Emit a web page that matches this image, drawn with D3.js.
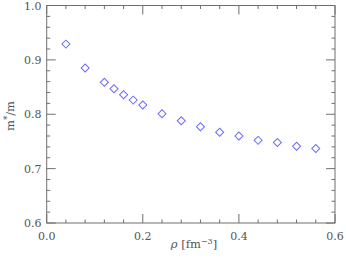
<!DOCTYPE html>
<html><head><meta charset="utf-8">
<script src="https://cdn.jsdelivr.net/npm/d3@7"></script>
<style>body{margin:0;background:#fff}svg{display:block}</style>
</head><body>
<svg id="c" width="346" height="261"></svg>
<script>
const rho = [0.04,0.08,0.12,0.14,0.16,0.18,0.20,0.24,0.28,0.32,0.36,0.40,0.44,0.48,0.52,0.56];
const mstar = [0.929,0.885,0.859,0.847,0.836,0.826,0.817,0.801,0.788,0.777,0.767,0.760,0.752,0.748,0.741,0.737];
const xTicks = [0.0,0.2,0.4,0.6];
const yTicks = [0.6,0.7,0.8,0.9,1.0];

const svg = d3.select("#c");
const L=46.7, R=335, T=5.5, B=223;
const x = d3.scaleLinear().domain([0,0.6]).range([L,R]);
const y = d3.scaleLinear().domain([0.6,1.0]).range([B,T]);
const col="#6f6f6f", font="DejaVu Serif", tcol="#555";

const g = svg.append("g");
const xMinor = d3.range(0,0.6001,0.04).map(v=>+v.toFixed(2)).filter(v=>!xTicks.some(t=>Math.abs(t-v)<1e-6));
const yMinor = d3.range(0.6,1.0001,0.02).map(v=>+v.toFixed(2)).filter(v=>!yTicks.some(t=>Math.abs(t-v)<1e-6));
function tick(x1,y1,x2,y2){g.append("line").attr("x1",x1).attr("y1",y1).attr("x2",x2).attr("y2",y2).attr("stroke",col).attr("stroke-width",1);}
xMinor.forEach(v=>{tick(x(v),B,x(v),B-3.5);tick(x(v),T,x(v),T+3.5);});
xTicks.forEach(v=>{tick(x(v),B,x(v),B-9);tick(x(v),T,x(v),T+9);});
yMinor.forEach(v=>{tick(L,y(v),L+3.5,y(v));tick(R,y(v),R-3.5,y(v));});
yTicks.forEach(v=>{tick(L,y(v),L+9,y(v));tick(R,y(v),R-9,y(v));});
g.append("rect").attr("x",L).attr("y",T).attr("width",R-L).attr("height",B-T).attr("fill","none").attr("stroke",col).attr("stroke-width",1);

svg.selectAll(".xl").data(xTicks).enter().append("text").attr("x",d=>x(d)).attr("y",240)
  .attr("text-anchor","middle").attr("font-family",font).attr("font-size",11).attr("fill",tcol).text(d=>d.toFixed(1));
svg.selectAll(".yl").data(yTicks).enter().append("text").attr("x",41.5).attr("y",d=>y(d)+4)
  .attr("text-anchor","end").attr("font-family",font).attr("font-size",11).attr("fill",tcol).text(d=>d.toFixed(1));

const xt = svg.append("text").attr("x",194).attr("y",248).attr("text-anchor","middle")
  .attr("font-family",font).attr("font-size",11.5).attr("fill",tcol);
xt.append("tspan").attr("font-style","italic").text("ρ");
xt.append("tspan").text("  [fm");
xt.append("tspan").attr("dy",-4).attr("font-size",8).text("−3");
xt.append("tspan").attr("dy",4).text("]");

const yt = svg.append("text").attr("transform","translate(14,116) rotate(-90)").attr("text-anchor","middle")
  .attr("font-family",font).attr("font-size",11.5).attr("fill",tcol);
yt.append("tspan").text("m");
yt.append("tspan").attr("dy",-4).attr("font-size",8.5).text("*");
yt.append("tspan").attr("dy",4).text("/m");

const sym = d3.symbol().type(d3.symbolSquare).size(32);
svg.selectAll(".p").data(rho.map((r,i)=>[r,mstar[i]])).enter().append("path")
  .attr("d",sym).attr("transform",d=>`translate(${x(d[0])},${y(d[1])}) rotate(45)`)
  .attr("fill","none").attr("stroke","#6a6aff").attr("stroke-width",1);
</script>
</body></html>
